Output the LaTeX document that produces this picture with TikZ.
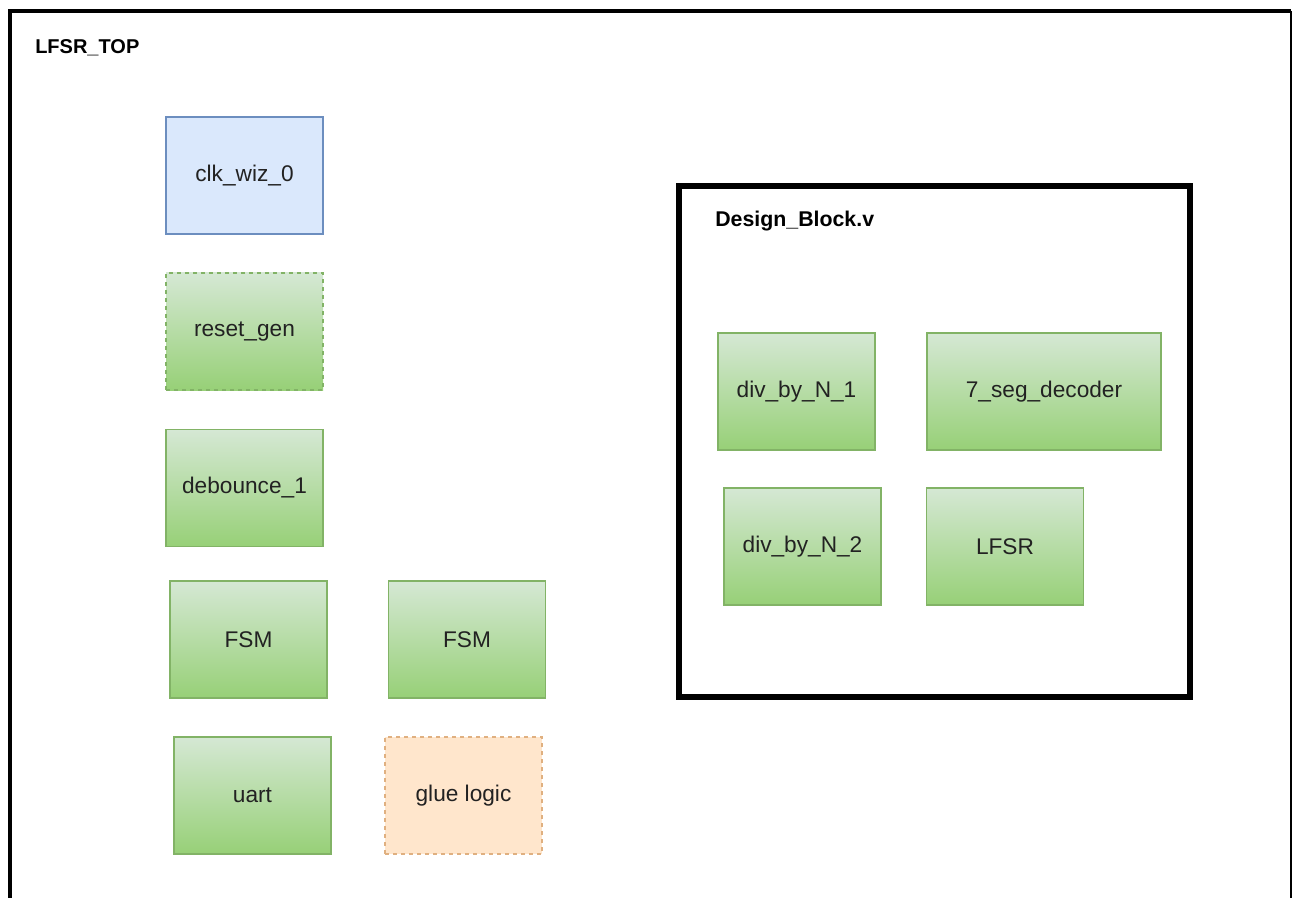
\documentclass[tikz,border=0pt]{standalone}
\usepackage{fontspec}
\setmainfont{Liberation Sans}
\definecolor{gfill1}{HTML}{D5E8D4}
\definecolor{gfill2}{HTML}{97D077}
\definecolor{gline}{HTML}{82B366}
\definecolor{bfill}{HTML}{DAE8FC}
\definecolor{bline}{HTML}{6C8EBF}
\definecolor{ofill}{HTML}{FFE6CC}
\definecolor{oline}{HTML}{E0B080}
\definecolor{txt}{HTML}{222222}
\begin{document}
\begin{tikzpicture}[x=0.75pt,y=-0.75pt,
  blk/.style={minimum width=117.75pt,minimum height=87.75pt,inner sep=0pt,
    font=\fontsize{17}{20}\selectfont,text=txt},
  gblk/.style={blk,draw=gline,line width=0.9pt,top color=gfill1,bottom color=gfill2},
  dashblk/.style={dash pattern=on 3pt off 3pt},
  lbl/.style={anchor=west,inner sep=0pt,font=\bfseries,text=black}]
\useasboundingbox (0,0) rectangle (1294,898);
\fill[white] (0,0) rectangle (1294,898);
% outer frame
\draw[line width=3pt] (10,905) -- (10,11) -- (1291,11);
\draw[line width=1.5pt] (1291,11) -- (1291,905);
\node[lbl,font=\bfseries\fontsize{15}{18}\selectfont] (top) at (35,48) {LFSR\_TOP};
% left column
\node[blk,draw=bline,line width=0.9pt,fill=bfill] (clk) at (244.5,175.5) {clk\_wiz\_0};
\node[gblk,dashblk] (rst) at (244.5,331.5) {reset\_gen};
\node[gblk] (deb) at (244.5,488) {debounce\_1};
\node[gblk] (fsm1) at (248.5,639.5) {FSM};
\node[gblk] (fsm2) at (467,639.5) {FSM};
\node[gblk] (uart) at (252.5,795.5) {uart};
\node[blk,draw=oline,line width=1.2pt,dashblk,fill=ofill] (glue) at (463.5,795.5) {glue logic};
% design block
\node[draw=black,line width=4pt,minimum width=383.25pt,minimum height=383.25pt,inner sep=0pt] (db) at (934.5,441.5) {};
\node[lbl,font=\bfseries\fontsize{16}{19}\selectfont] (dbl) at (715,221) {Design\_Block.v};
\node[gblk] (d1) at (796.5,391.5) {div\_by\_N\_1};
\node[gblk,minimum width=175.5pt] (seg) at (1044,391.5) {7\_seg\_decoder};
\node[gblk] (d2) at (802.5,546.5) {div\_by\_N\_2};
\node[gblk] (lfsr) at (1005,546.5) {LFSR};
\end{tikzpicture}
\end{document}
